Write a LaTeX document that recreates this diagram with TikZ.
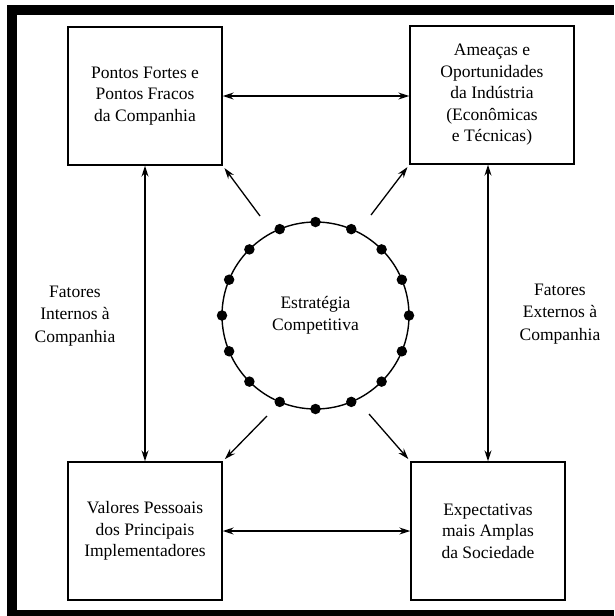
\documentclass[tikz,border=0pt]{standalone}
\usepackage{fontspec}
\setmainfont{Liberation Serif}
\usetikzlibrary{arrows.meta,calc}
\begin{document}
\begin{tikzpicture}[x=1pt,y=-1pt,
  boxnode/.style={draw,line width=1.4pt,align=center,font=\fontsize{17.5}{21.5}\selectfont,inner sep=0pt,minimum height=138pt},
  lbl/.style={align=center,font=\fontsize{17.5}{22.5}\selectfont,inner sep=0pt},
  arr/.style={line width=1.3pt,-{Stealth[length=11pt,width=7pt]}},
  darr/.style={line width=1.3pt,{Stealth[length=11pt,width=7pt]}-{Stealth[length=11pt,width=7pt]}},
  dotnode/.style={circle,fill=black,inner sep=0pt,minimum size=10.5pt}]
\useasboundingbox (0,0) rectangle (614,616);
% frame
\fill[black] (7,5) rectangle (17,616);
\fill[black] (7,5) rectangle (614,15);
\fill[black] (7,610) rectangle (614,616);
% boxes
\node[boxnode,minimum width=154pt] (TL) at (145,96) {Pontos Fortes e\\Pontos Fracos\\da Companhia};
\node[boxnode,minimum width=164pt] (TR) at (492,95) {Ameaças e\\Oportunidades\\da Indústria\\(Econômicas\\e Técnicas)};
\node[boxnode,minimum width=154pt] (BL) at (145,531) {Valores Pessoais\\dos Principais\\Implementadores};
\node[boxnode,minimum width=154pt] (BR) at (488,531) {Expectativas\\mais Amplas\\da Sociedade};
% circle
\node[circle,draw,line width=1.4pt,minimum size=187pt,inner sep=0pt,align=center,font=\fontsize{17.5}{22}\selectfont] (C) at (315.5,315.5) {Estratégia\\Competitiva};
\foreach \k in {0,...,15} {
  \node[dotnode] (d\k) at ($(C.center)+({\k*22.5}:93.5)$) {};
}
% side labels
\node[lbl] (LI) at (75,316) {Fatores\\Internos à\\Companhia};
\node[lbl] (LE) at (560,314) {Fatores\\Externos à\\Companhia};
% connectors between boxes
\draw[darr] (TL.east) -- (TL.east -| TR.west);
\draw[darr] (BL.east) -- (BL.east -| BR.west);
\draw[darr] (TL.south) -- (BL.north);
\draw[darr] (TR.south -| BR.north) -- (BR.north);
% diagonal arrows
\coordinate (a1) at (260,216);
\coordinate (a2) at (371,215);
\coordinate (a3) at (267,416);
\coordinate (a4) at (369,414);
\draw[arr,shorten >=3pt] (a1) -- (TL.south east);
\draw[arr,shorten >=3pt] (a2) -- (TR.south west);
\draw[arr,shorten >=3pt] (a3) -- (BL.north east);
\draw[arr,shorten >=3pt] (a4) -- (BR.north west);
\end{tikzpicture}
\end{document}
